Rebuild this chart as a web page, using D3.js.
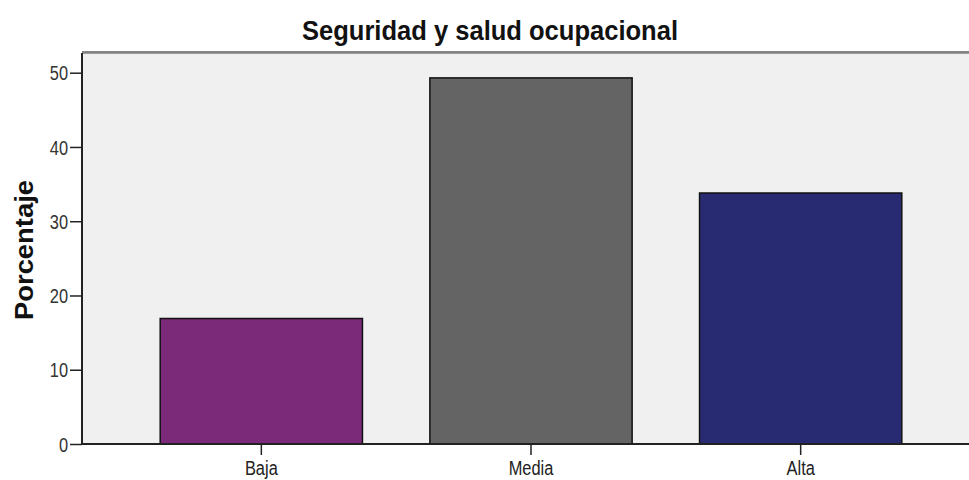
<!DOCTYPE html>
<html>
<head>
<meta charset="utf-8">
<script src="https://cdn.jsdelivr.net/npm/d3@7"></script>
<style>
  body { margin: 0; background: #fff; }
  svg { display: block; font-family: "Liberation Sans", Arial, sans-serif; }
</style>
</head>
<body>
<div id="chart"></div>
<script>
const categories = ["Baja", "Media", "Alta"];
const values = [16.9, 49.3, 33.8];
const barColors = ["#7b2a7a", "#646464", "#282a72"];
const yTicks = [0, 10, 20, 30, 40, 50];

const width = 969, height = 480;
const margin = { top: 53, left: 82, bottom: 36 };
const plotRight = 980; // plot continues past the right edge in the original
const narrow = 0.82; // tick labels in the original are condensed

const svg = d3.select("#chart").append("svg")
  .attr("width", width)
  .attr("height", height);

const x = d3.scaleBand()
  .domain(categories)
  .range([margin.left, plotRight])
  .paddingInner(0.25)
  .paddingOuter(0.29);

const y = d3.scaleLinear()
  .domain([0, 50])
  .range([height - margin.bottom, 72.7]);

// squeeze tick labels horizontally
function condense(sel) {
  sel.each(function () {
    const len = this.getComputedTextLength();
    d3.select(this)
      .attr("textLength", len * narrow)
      .attr("lengthAdjust", "spacingAndGlyphs");
  });
}

// plot background
svg.append("rect")
  .attr("x", margin.left)
  .attr("y", margin.top)
  .attr("width", width - margin.left)
  .attr("height", y(0) - margin.top)
  .attr("fill", "#f0f0f0");

// top frame line (grey, doubled look)
svg.append("line")
  .attr("x1", margin.left).attr("x2", width)
  .attr("y1", margin.top - 0.5).attr("y2", margin.top - 0.5)
  .attr("stroke", "#9a9a9a")
  .attr("stroke-width", 3);
svg.append("line")
  .attr("x1", margin.left).attr("x2", width)
  .attr("y1", margin.top - 1).attr("y2", margin.top - 1)
  .attr("stroke", "#6e6e6e")
  .attr("stroke-width", 1);

// bars
svg.selectAll("rect.bar")
  .data(categories)
  .enter()
  .append("rect")
  .attr("class", "bar")
  .attr("x", (d) => x(d))
  .attr("y", (d, i) => y(values[i]))
  .attr("width", x.bandwidth())
  .attr("height", (d, i) => y(0) - y(values[i]))
  .attr("fill", (d, i) => barColors[i])
  .attr("stroke", "#111")
  .attr("stroke-width", 1.5);

// y axis
const yAxis = svg.append("g")
  .attr("transform", "translate(" + margin.left + ",0)")
  .call(d3.axisLeft(y).tickValues(yTicks).tickSize(12).tickPadding(2).tickSizeOuter(0));
yAxis.select(".domain").attr("stroke", "#222").attr("stroke-width", 2)
  .attr("d", "M0," + margin.top + "V" + y(0));
yAxis.selectAll(".tick line").attr("stroke", "#222").attr("stroke-width", 1.5);
yAxis.selectAll(".tick text")
  .attr("font-size", 20)
  .attr("fill", "#333")
  .attr("dy", "0.36em")
  .attr("font-family", "'Liberation Sans', Arial, sans-serif")
  .call(condense);

// x axis
const xAxis = svg.append("g")
  .attr("transform", "translate(0," + y(0) + ")")
  .call(d3.axisBottom(x).tickSize(11).tickPadding(6).tickSizeOuter(0));
xAxis.select(".domain").attr("stroke", "#222").attr("stroke-width", 2)
  .attr("d", "M" + margin.left + ",0H" + width);
xAxis.selectAll(".tick line").attr("stroke", "#222").attr("stroke-width", 1.5);
xAxis.selectAll(".tick text")
  .attr("font-size", 20)
  .attr("fill", "#222")
  .attr("font-family", "'Liberation Sans', Arial, sans-serif")
  .call(condense);

// title
svg.append("text")
  .attr("x", 490)
  .attr("y", 40)
  .attr("text-anchor", "middle")
  .attr("font-size", 27)
  .attr("font-weight", "bold")
  .attr("fill", "#111")
  .attr("textLength", 376)
  .attr("lengthAdjust", "spacingAndGlyphs")
  .text("Seguridad y salud ocupacional");

// y label
svg.append("text")
  .attr("transform", "translate(33,250) rotate(-90)")
  .attr("text-anchor", "middle")
  .attr("font-size", 25)
  .attr("font-weight", "bold")
  .attr("fill", "#111")
  .attr("textLength", 140)
  .attr("lengthAdjust", "spacingAndGlyphs")
  .text("Porcentaje");
</script>
</body>
</html>
